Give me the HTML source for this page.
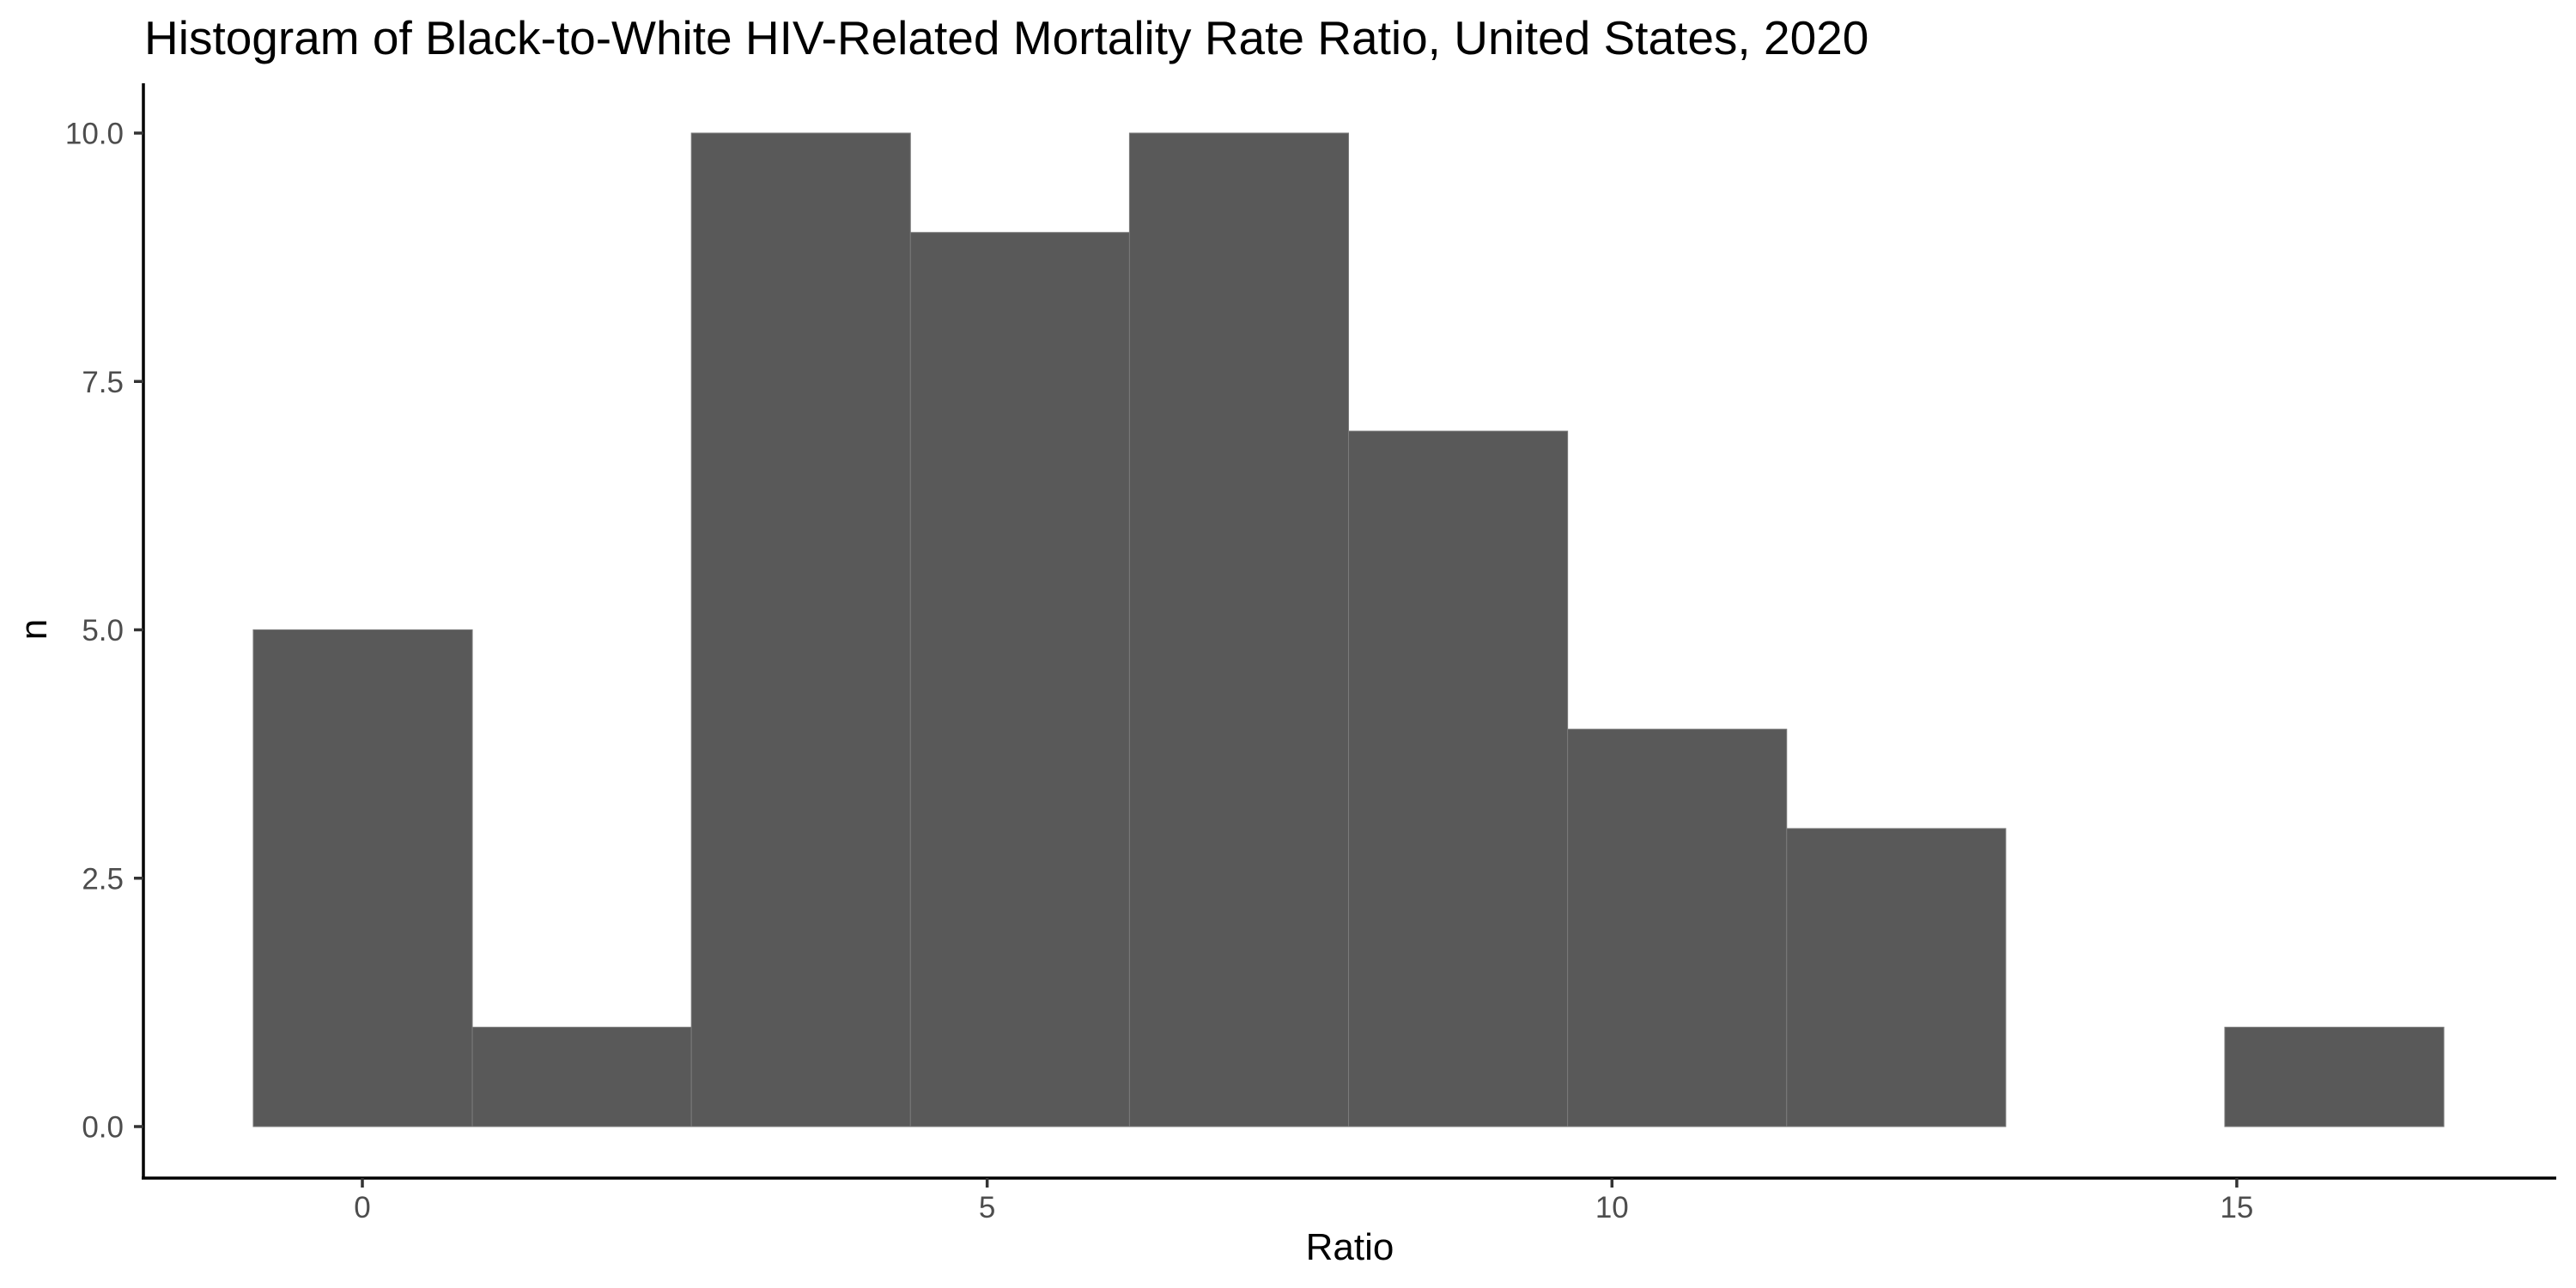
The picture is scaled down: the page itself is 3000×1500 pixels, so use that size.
<!DOCTYPE html>
<html><head><meta charset="utf-8"><style>
html,body{margin:0;padding:0;background:#fff;}
svg{display:block;font-family:"Liberation Sans",Arial,sans-serif;}
</style></head><body>
<svg id="chart" width="3000" height="1500" viewBox="0 0 3000 1500" xmlns="http://www.w3.org/2000/svg">
<text x="168" y="63" font-size="55" fill="#000">Histogram of Black-to-White HIV-Related Mortality Rate Ratio, United States, 2020</text>
<g id="bars"></g>
<g id="axes"></g>
<text x="1572" y="1467" font-size="44" text-anchor="middle" fill="#000">Ratio</text>
<text transform="translate(54,733) rotate(-90)" font-size="44" text-anchor="middle" fill="#000">n</text>
</svg>
<script>
const binStart = -0.873;
const binWidth = 1.753;
const counts = [5, 1, 10, 9, 10, 7, 4, 3, 0, 1];
const xTicks = [0, 5, 10, 15];
const xTickLabels = ["0", "5", "10", "15"];
const yTicks = [0, 2.5, 5, 7.5, 10];
const yTickLabels = ["0.0", "2.5", "5.0", "7.5", "10.0"];

const NS = "http://www.w3.org/2000/svg";
function xs(v){ return 422 + v * 145.53; }
function ys(v){ return 1312 - v * 115.7; }
function mk(tag, attrs, parent){
  const e = document.createElementNS(NS, tag);
  for (const k in attrs) e.setAttribute(k, attrs[k]);
  parent.appendChild(e);
  return e;
}
const bars = document.getElementById('bars');
counts.forEach((c, i) => {
  if (c <= 0) return;
  const x0 = xs(binStart + i * binWidth), x1 = xs(binStart + (i + 1) * binWidth);
  const r = mk('rect', {x: x0, y: ys(c), width: x1 - x0, height: ys(0) - ys(c), fill: '#595959', stroke: '#7a7a7a', 'stroke-width': 1}, bars);
  
  
});
const axes = document.getElementById('axes');
const yl = mk('line', {x1: 167, y1: 97, x2: 167, y2: 1373, stroke: '#000', 'stroke-width': 3.5}, axes);


const xl = mk('line', {x1: 165, y1: 1372, x2: 2977, y2: 1372, stroke: '#000', 'stroke-width': 3.5}, axes);


yTicks.forEach((v, i) => {
  const y = ys(v);
  const t = mk('line', {x1: 156, y1: y, x2: 167, y2: y, stroke: '#333', 'stroke-width': 3.5}, axes);
  
  
  const l = mk('text', {x: 144, y: y + 12.5, 'font-size': 35, 'text-anchor': 'end', fill: '#4d4d4d'}, axes);
  l.textContent = yTickLabels[i];
  
  
});
xTicks.forEach((v, i) => {
  const x = xs(v);
  const t = mk('line', {x1: x, y1: 1372, x2: x, y2: 1383, stroke: '#333', 'stroke-width': 3.5}, axes);
  
  
  const l = mk('text', {x: x, y: 1418, 'font-size': 35, 'text-anchor': 'middle', fill: '#4d4d4d'}, axes);
  l.textContent = xTickLabels[i];
  
  
});
</script>
</body></html>
